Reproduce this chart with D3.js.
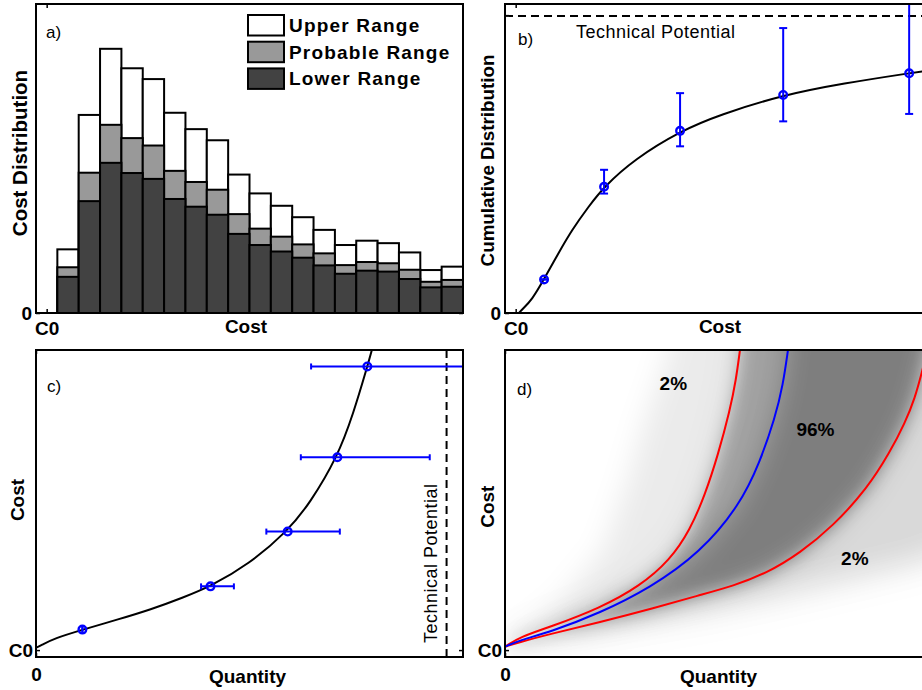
<!DOCTYPE html>
<html>
<head>
<meta charset="utf-8">
<script src="https://cdn.jsdelivr.net/npm/d3@7"></script>
<style>
  body { margin: 0; background: #fff; }
  svg text { font-family: "Liberation Sans", Arial, Helvetica, sans-serif; }
</style>
</head>
<body>
<div id="chart"></div>
<script>
// ---- data ----
// panel a: cost bins and the three ranges of the cost distribution
const binPos = [1, 2, 3, 4, 5, 6, 7, 8, 9, 10, 11, 12, 13, 14, 15, 16, 17, 18, 19];
const upperRange = [20.6, 64.1, 85.5, 79.2, 75.7, 64.8, 59.5, 55.9, 44.8, 38.7, 34.7, 31.0, 26.9, 22.0, 23.4, 22.6, 19.6, 13.9, 15.0];
const probableRange = [14.8, 45.4, 60.9, 56.6, 54.2, 46.0, 42.4, 39.9, 32.0, 27.3, 24.7, 22.2, 19.3, 15.5, 16.5, 16.1, 14.0, 10.1, 10.7];
const lowerRange = [11.7, 36.2, 48.6, 45.3, 43.4, 36.9, 34.4, 31.8, 25.6, 22.0, 19.9, 17.9, 15.4, 12.7, 13.7, 13.4, 11.0, 8.3, 8.5];
const legendLabels = ['Upper Range', 'Probable Range', 'Lower Range'];

// panels b, c: estimates with ranges (cost, cumulative quantity)
const pointCost = [1.33, 4.14, 7.7, 12.53, 18.43];
const pointQty = [0.113, 0.425, 0.613, 0.734, 0.807];
const pointLow = [0.113, 0.402, 0.561, 0.645, 0.670];
const pointHigh = [0.113, 0.482, 0.740, 0.959, 1.120];

// fitted supply curve: [cost, cumulative quantity]
const supplyCurve = [
  [0.15, 0], [0.30, 0.012], [0.76, 0.044], [1.33, 0.114], [2.0, 0.201], [2.63, 0.279],
  [3.41, 0.358], [4.14, 0.425], [5.55, 0.517], [7.7, 0.612], [9.54, 0.667],
  [12.53, 0.734], [15.37, 0.773], [18.43, 0.807], [19.5, 0.818]
];
const technicalPotential = 1.0;

// panel d: quantile curves, [quantity, cost]
const lowerQuantile = [
  [0, 0.22], [0.0365, 0.85], [0.1096, 1.50], [0.2314, 2.73], [0.3288, 4.16], [0.4019, 5.85],
  [0.4506, 7.80], [0.4871, 10.08], [0.5188, 12.68], [0.5480, 15.60], [0.5626, 17.55], [0.5723, 19.50]
];
const medianCurve = [
  [0, 0.22], [0.0365, 0.65], [0.1096, 1.17], [0.2314, 2.41], [0.3531, 4.03], [0.4749, 6.31],
  [0.5723, 9.43], [0.6210, 12.22], [0.6576, 15.08], [0.6771, 17.23], [0.6892, 19.50]
];
const upperQuantile = [
  [0, 0.22], [0.0365, 0.52], [0.1096, 1.04], [0.2314, 1.82], [0.3531, 2.66], [0.4749, 3.58],
  [0.5553, 4.16], [0.6381, 5.01], [0.7185, 6.31], [0.7988, 8.06], [0.8816, 10.47], [0.9377, 12.87],
  [0.9742, 14.76], [0.9985, 16.38], [1.0156, 18.07], [1.0351, 20.15]
];
// where the shaded density fades out
const shadeLeftEdge = [[0, 0.7], [0.05, 1.31], [0.14, 3.26], [0.24, 6.50], [0.30, 11.05], [0.34, 14.75], [0.40, 19.50]];
const shadeRightEdge = [[0, 0.1], [0.1096, 0.8], [0.2314, 1.4], [0.4749, 2.5], [0.6381, 3.4], [0.7988, 4.4], [1.0156, 5.8], [1.15, 7.5]];
const quantileLabels = [
  { text: '2%', q: 0.41, c: 16.9 },
  { text: '96%', q: 0.756, c: 13.9 },
  { text: '2%', q: 0.852, c: 5.5 }
];

// ---- layout ----
const totalWidth = 922;
const totalHeight = 690;
const plotW = 427;
const topH = 309;
const botH = 307;
const boldFont = 19;

const svg = d3.select('#chart').append('svg')
  .attr('width', totalWidth)
  .attr('height', totalHeight);

const defs = svg.append('defs');

function addClip(id, w, h) {
  defs.append('clipPath').attr('id', id)
    .append('rect').attr('width', w).attr('height', h);
}

function styleAxis(g, size) {
  g.select('.domain').remove();
  g.selectAll('.tick line').attr('stroke', '#000').attr('stroke-width', 1.5);
  g.selectAll('.tick text')
    .attr('font-family', null)
    .attr('font-size', size)
    .attr('font-weight', 'bold')
    .attr('fill', '#000');
  g.attr('font-family', null).attr('font-size', null);
}

function frame(g, w, h) {
  g.append('rect')
    .attr('width', w).attr('height', h)
    .attr('fill', 'none').attr('stroke', '#000').attr('stroke-width', 2);
}

function ticks(g, x, y, w, h, xLabel, yLabel, xPad, yPad) {
  g.append('g').attr('transform', `translate(0,${h})`)
    .call(d3.axisBottom(x).tickValues([0]).tickFormat(() => xLabel).tickSizeInner(-4).tickSizeOuter(0).tickPadding(xPad))
    .call(a => styleAxis(a, boldFont));
  g.append('g')
    .call(d3.axisTop(x).tickValues([0]).tickFormat('').tickSizeInner(-4).tickSizeOuter(0));
  g.append('g')
    .call(d3.axisLeft(y).tickValues([0]).tickFormat(() => yLabel).tickSizeInner(-4).tickSizeOuter(0).tickPadding(yPad))
    .call(a => styleAxis(a, boldFont));
  g.append('g').attr('transform', `translate(${w},0)`)
    .call(d3.axisRight(y).tickValues([0]).tickFormat('').tickSizeInner(-4).tickSizeOuter(0));
  g.selectAll('.domain').remove();
  g.selectAll('.tick line').attr('stroke', '#000').attr('stroke-width', 1.5);
}

function label(g, text, x, y, opts = {}) {
  const t = g.append('text')
    .attr('transform', `translate(${x},${y})` + (opts.rotate ? ' rotate(-90)' : ''))
    .attr('text-anchor', opts.anchor || 'middle')
    .attr('font-size', opts.size || boldFont)
    .attr('font-weight', opts.bold === false ? 'normal' : 'bold')
    .attr('fill', '#000')
    .text(text);
  if (opts.spacing) t.attr('letter-spacing', opts.spacing);
  return t;
}

// ================= panel a =================
const gA = svg.append('g').attr('transform', 'translate(36,4)');
const xA = d3.scaleLinear().domain([-0.5, 19.5]).range([0, plotW]);
const yA = d3.scaleLinear().domain([0, 100]).range([topH, 0]);
const layers = [
  { values: upperRange, fill: '#ffffff' },
  { values: probableRange, fill: '#999999' },
  { values: lowerRange, fill: '#424242' }
];
layers.forEach(layer => {
  gA.append('g').selectAll('rect')
    .data(binPos)
    .join('rect')
    .attr('x', d => xA(d - 0.5))
    .attr('width', xA(1) - xA(0))
    .attr('y', (d, i) => yA(layer.values[i]))
    .attr('height', (d, i) => yA(0) - yA(layer.values[i]))
    .attr('fill', layer.fill)
    .attr('stroke', '#000')
    .attr('stroke-width', 2);
});
frame(gA, plotW, topH);
ticks(gA, xA, yA, plotW, topH, 'C0', '0', 9, 4);

const legend = gA.append('g').attr('transform', 'translate(212,11)');
legendLabels.forEach((name, i) => {
  const row = legend.append('g').attr('transform', `translate(0,${i * 26.7})`);
  row.append('rect').attr('width', 36).attr('height', 20.5)
    .attr('fill', layers[i].fill).attr('stroke', '#000').attr('stroke-width', 2);
  label(row, name, 41, 17, { anchor: 'start', spacing: 1.2 });
});
label(svg, 'a)', 46, 38, { anchor: 'start', bold: false, size: 17 });
label(svg, 'Cost', 246, 333);
label(svg, 'Cost Distribution', 27, 153, { rotate: true, size: 20.5 });

// ================= panel b =================
addClip('clipB', plotW, topH);
const gB = svg.append('g').attr('transform', 'translate(505,4)');
const xB = d3.scaleLinear().domain([-0.5, 19.5]).range([0, plotW]);
const yB = d3.scaleLinear().domain([0, 1.04]).range([topH, 0]);
const bPlot = gB.append('g').attr('clip-path', 'url(#clipB)');
bPlot.append('line')
  .attr('x1', 0).attr('x2', plotW)
  .attr('y1', yB(technicalPotential)).attr('y2', yB(technicalPotential))
  .attr('stroke', '#000').attr('stroke-width', 2).attr('stroke-dasharray', '8,5');
bPlot.append('path')
  .datum(supplyCurve)
  .attr('fill', 'none').attr('stroke', '#000').attr('stroke-width', 2)
  .attr('d', d3.line().x(d => xB(d[0])).y(d => yB(d[1])).curve(d3.curveBasis));
const bErr = bPlot.append('g').attr('stroke', '#0000ff').attr('stroke-width', 2).attr('fill', 'none');
pointCost.forEach((c, i) => {
  const x = xB(c);
  bErr.append('line').attr('x1', x).attr('x2', x).attr('y1', yB(pointLow[i])).attr('y2', yB(pointHigh[i]));
  [pointLow[i], pointHigh[i]].forEach(v => {
    bErr.append('line').attr('x1', x - 4).attr('x2', x + 4).attr('y1', yB(v)).attr('y2', yB(v));
  });
  bErr.append('circle').attr('cx', x).attr('cy', yB(pointQty[i])).attr('r', 3.8).attr('stroke-width', 2.4);
});
frame(gB, plotW, topH);
ticks(gB, xB, yB, plotW, topH, 'C0', '0', 9, 4);
label(svg, 'Technical Potential', 576, 38, { anchor: 'start', bold: false, size: 18, spacing: 0.5 });
label(svg, 'b)', 518, 45, { anchor: 'start', bold: false, size: 17 });
label(svg, 'Cost', 720, 333);
label(svg, 'Cumulative Distribution', 493.5, 160.5, { rotate: true, size: 18.8 });

// ================= panel c =================
addClip('clipC', plotW, botH);
const gC = svg.append('g').attr('transform', 'translate(36,350)');
const xC = d3.scaleLinear().domain([0, 1.04]).range([0, plotW]);
const yC = d3.scaleLinear().domain([-0.45, 19.5]).range([botH, 0]);
const cPlot = gC.append('g').attr('clip-path', 'url(#clipC)');
cPlot.append('line')
  .attr('x1', xC(technicalPotential)).attr('x2', xC(technicalPotential))
  .attr('y1', 0).attr('y2', botH)
  .attr('stroke', '#000').attr('stroke-width', 2).attr('stroke-dasharray', '8,5');
cPlot.append('path')
  .datum(supplyCurve)
  .attr('fill', 'none').attr('stroke', '#000').attr('stroke-width', 2)
  .attr('d', d3.line().x(d => xC(d[1])).y(d => yC(d[0])).curve(d3.curveBasis));
const cErr = cPlot.append('g').attr('stroke', '#0000ff').attr('stroke-width', 2).attr('fill', 'none');
pointCost.forEach((c, i) => {
  const y = yC(c);
  cErr.append('line').attr('y1', y).attr('y2', y).attr('x1', xC(pointLow[i])).attr('x2', xC(pointHigh[i]));
  [pointLow[i], pointHigh[i]].forEach(v => {
    cErr.append('line').attr('y1', y - 3).attr('y2', y + 3).attr('x1', xC(v)).attr('x2', xC(v));
  });
  cErr.append('circle').attr('cx', xC(pointQty[i])).attr('cy', y).attr('r', 3.8).attr('stroke-width', 2.4);
});
frame(gC, plotW, botH);
ticks(gC, xC, yC, plotW, botH, '0', 'C0', 11, 3);
label(svg, 'Technical Potential', 437, 643, { rotate: true, anchor: 'start', bold: false, size: 18, spacing: 0.5 });
label(svg, 'c)', 47, 391.5, { anchor: 'start', bold: false, size: 17 });
label(svg, 'Quantity', 247.5, 683);
label(svg, 'Cost', 23.5, 500, { rotate: true });

// ================= panel d =================
addClip('clipD', plotW, botH);
const gD = svg.append('g').attr('transform', 'translate(505,350)');
const xD = d3.scaleLinear().domain([0, 1.04]).range([0, plotW]);
const yD = d3.scaleLinear().domain([-0.45, 19.5]).range([botH, 0]);

const blurs = [['blurWide', 14], ['blurNear', 18], ['blurMid', 8], ['blurCore', 13]];
blurs.forEach(([id, s]) => {
  defs.append('filter').attr('id', id)
    .attr('x', '-30%').attr('y', '-30%').attr('width', '160%').attr('height', '160%')
    .append('feGaussianBlur').attr('stdDeviation', s);
});

// closed band between two curves, extended above the top of the plot
function band(left, right) {
  const top = 24;
  const pts = left.map(d => [d[0], d[1]])
    .concat([[left[left.length - 1][0], top], [right[right.length - 1][0] + 0.05, top]])
    .concat(right.slice().reverse());
  return d3.line().x(d => xD(d[0])).y(d => yD(d[1])).curve(d3.curveLinearClosed)(pts);
}

const dPlot = gD.append('g').attr('clip-path', 'url(#clipD)');
const shade = dPlot.append('g');
shade.append('path').attr('d', band(shadeLeftEdge, shadeRightEdge))
  .attr('fill', '#000').attr('fill-opacity', 0.08).attr('filter', 'url(#blurWide)');
shade.append('path').attr('d', band(lowerQuantile, shadeRightEdge))
  .attr('fill', '#000').attr('fill-opacity', 0.08).attr('filter', 'url(#blurNear)');
shade.append('path').attr('d', band(lowerQuantile, upperQuantile))
  .attr('fill', '#000').attr('fill-opacity', 0.26).attr('filter', 'url(#blurMid)');
shade.append('path').attr('d', band(medianCurve, upperQuantile))
  .attr('fill', '#000').attr('fill-opacity', 0.22).attr('filter', 'url(#blurCore)');

const qLine = d3.line().x(d => xD(d[0])).y(d => yD(d[1])).curve(d3.curveBasis);
[[lowerQuantile, '#ff0000'], [upperQuantile, '#ff0000'], [medianCurve, '#0000ff']].forEach(([data, color]) => {
  dPlot.append('path').datum(data)
    .attr('fill', 'none').attr('stroke', color).attr('stroke-width', 2)
    .attr('d', qLine);
});
dPlot.selectAll('text.q')
  .data(quantileLabels)
  .join('text')
  .attr('class', 'q')
  .attr('x', d => xD(d.q)).attr('y', d => yD(d.c))
  .attr('text-anchor', 'middle')
  .attr('font-size', boldFont).attr('font-weight', 'bold')
  .text(d => d.text);
frame(gD, plotW, botH);
ticks(gD, xD, yD, plotW, botH, '0', 'C0', 11, 3);
label(svg, 'd)', 517, 395, { anchor: 'start', bold: false, size: 17 });
label(svg, 'Quantity', 718.5, 683);
label(svg, 'Cost', 494, 506.7, { rotate: true });
</script>
</body>
</html>
